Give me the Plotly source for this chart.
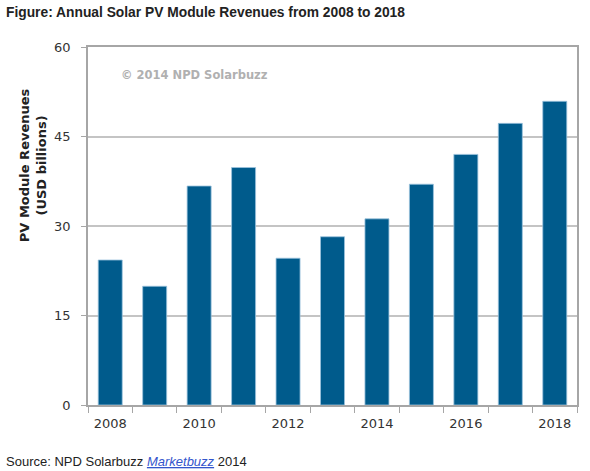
import plotly.graph_objects as go

years = [2008, 2009, 2010, 2011, 2012, 2013, 2014, 2015, 2016, 2017, 2018]
revenues = [24.3, 19.9, 36.7, 39.8, 24.6, 28.2, 31.2, 37.0, 42.0, 47.2, 50.9]
x_tick_vals = [2008, 2010, 2012, 2014, 2016, 2018]
x_tick_text = ["2008", "2010", "2012", "2014", "2016", "2018"]
y_tick_vals = [0, 15, 30, 45, 60]
boundaries = [y - 0.5 for y in years] + [years[-1] + 0.5]

fig = go.Figure()
fig.add_trace(go.Bar(
    x=years, y=revenues, width=0.54,
    marker=dict(color="#005b8c", line=dict(color="#9cc3dd", width=0.8)),
    hoverinfo="x+y",
))

axis_col = "#a6a6a6"
fig.update_layout(
    width=590, height=471,
    margin=dict(l=88, r=11, t=47, b=66),
    paper_bgcolor="white", plot_bgcolor="white",
    showlegend=False,
    font=dict(family="DejaVu Sans", size=13, color="#333333"),
    xaxis=dict(
        range=[2007.5, 2018.5], tickvals=x_tick_vals, ticktext=x_tick_text,
        ticks="", showgrid=False, showline=True, linecolor=axis_col, linewidth=1.5,
        mirror=True, zeroline=False, ticklabelstandoff=6,
        minor=dict(tickvals=boundaries, ticks="outside", ticklen=6, tickcolor=axis_col, tickwidth=1.2, showgrid=False),
        tickfont=dict(family="DejaVu Sans", size=13, color="#333333"),
    ),
    yaxis=dict(
        range=[0, 60], tickvals=y_tick_vals, ticks="outside", ticklen=5, tickcolor=axis_col,
        tickwidth=1.2, showgrid=True, gridcolor="#c4c4c4", gridwidth=1.5,
        showline=True, linecolor=axis_col, linewidth=1.5, mirror=True, zeroline=False,
        ticklabelstandoff=8,
        tickfont=dict(family="DejaVu Sans", size=13, color="#333333"),
    ),
    annotations=[
        dict(text="<b>Figure: Annual Solar PV Module Revenues from 2008 to 2018</b>",
             xref="paper", yref="paper", x=-84/491, y=1 + 35/358, xanchor="left", yanchor="middle",
             showarrow=False, font=dict(family="Liberation Sans", size=13.8, color="#222222")),
        dict(text="<b>© 2014 NPD Solarbuzz</b>",
             xref="paper", yref="paper", x=31/491, y=1 - 28/358, xanchor="left", yanchor="middle",
             showarrow=False, font=dict(family="DejaVu Sans", size=11.5, color="#b0b0b0")),
        dict(text="<b>PV Module Revenues<br>(USD billions)</b>",
             xref="paper", yref="paper", x=-(88 - 33) / 491, y=(405 - 165) / 358,
             xanchor="center", yanchor="middle", textangle=-90,
             showarrow=False, font=dict(family="DejaVu Sans", size=13, color="#222222")),
        dict(text="Source: NPD Solarbuzz <a href='#' style='color:#3355cc'><i><u>Marketbuzz</u></i></a> 2014",
             xref="paper", yref="paper", x=-84/491, y=-(461 - 405) / 358, xanchor="left", yanchor="middle",
             showarrow=False, font=dict(family="Liberation Sans", size=13, color="#222222")),
    ],
)

fig.write_html("out.html", config={"displayModeBar": False},
               post_script="document.body.style.margin='0';")
